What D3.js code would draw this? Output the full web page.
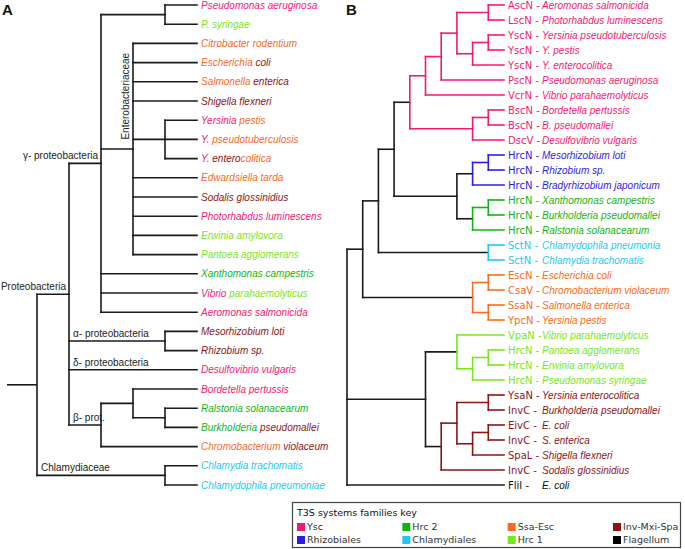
<!DOCTYPE html>
<html><head><meta charset="utf-8">
<script src="https://cdn.jsdelivr.net/npm/d3@7"></script>
<style>
body{margin:0;background:#fff;}
text{white-space:pre;}
</style>
</head><body>
<script>
// ---------- DATA ----------
const families = ["Ysc","Rhizobiales","Hrc 2","Chlamydiales","Ssa-Esc","Hrc 1","Inv-Mxi-Spa","Flagellum"];
const familyColors = ["#f41a6f","#2a1ee6","#12b412","#1fc8f0","#fb6a20","#77e81a","#8e1414","#000000"];

// Panel A: species tree (leaf indices), internal node names used for clade labels
const treeA = "((((0,1),(2,3,4,5,(6,7,8),9,10,11,12,13)entero,14,15,16)gamma,(17,18)alpha,19,((20,(21,22)),23)beta)proteo,(24,25)chlam)";
const leavesA = [
  [["Pseudomonas aeruginosa","Ysc"]],
  [["P. syringae","Hrc 1"]],
  [["Citrobacter rodentium","Ssa-Esc"]],
  [["Escherichia ","Ssa-Esc"],["coli","Inv-Mxi-Spa"]],
  [["Salmonella ","Ssa-Esc"],["enterica","Inv-Mxi-Spa"]],
  [["Shigella flexneri","Inv-Mxi-Spa"]],
  [["Yersinia ","Ysc"],["pestis","Ssa-Esc"]],
  [["Y. ","Ysc"],["pseudotuberculosis","Ssa-Esc"]],
  [["Y. ","Ysc"],["entero","Inv-Mxi-Spa"],["colitica","Ssa-Esc"]],
  [["Edwardsiella tarda","Ssa-Esc"]],
  [["Sodalis glossinidius","Inv-Mxi-Spa"]],
  [["Photorhabdus luminescens","Ysc"]],
  [["Erwinia amylovora","Hrc 1"]],
  [["Pantoea agglomerans","Hrc 1"]],
  [["Xanthomonas campestris","Hrc 2"]],
  [["Vibrio ","Ysc"],["parahaemolyticus","Hrc 1"]],
  [["Aeromonas salmonicida","Ysc"]],
  [["Mesorhizobium loti","Inv-Mxi-Spa"]],
  [["Rhizobium sp.","Inv-Mxi-Spa"]],
  [["Desulfovibrio vulgaris","Ysc"]],
  [["Bordetella pertussis","Ysc"]],
  [["Ralstonia solanacearum","Hrc 2"]],
  [["Burkholderia ","Hrc 2"],["pseudomallei","Inv-Mxi-Spa"]],
  [["Chromobacterium ","Ssa-Esc"],["violaceum","Inv-Mxi-Spa"]],
  [["Chlamydia trachomatis","Chlamydiales"]],
  [["Chlamydophila pneumoniae","Chlamydiales"]]
];
const cladeLabelsA = [
  ["γ- proteobacteria","gamma","end"],
  ["Enterobacteriaceae","entero","vertical"],
  ["Proteobacteria","proteo","end"],
  ["α- proteobacteria","alpha","start"],
  ["δ- proteobacteria","19","start"],
  ["β- prot.","beta","start"],
  ["Chlamydiaceae","chlam","start"]
];

// Panel B: ATPase tree
const treeB = "(((((((((0,1),((2,3),4)),5),6),((7,8),9)),(((10,11),12),((13,14),15))),(16,17)),((18,19),(20,21))),((22,((23,24),25)),(((26,27),((28,29),30)),31)),32)";
const genesB = ["AscN","LscN","YscN","YscN","YscN","PscN","VcrN","BscN","BscN","DscV",
  "HrcN","HrcN","HrcN","HrcN","HrcN","HrcN","SctN","SctN","EscN","CsaV","SsaN","YpcN",
  "VpaN","HrcN","HrcN","HrcN","YsaN","InvC","EivC","InvC","SpaL","InvC","FliI"];
const speciesB = ["Aeromonas salmonicida","Photorhabdus luminescens","Yersinia pseudotuberculosis","Y. pestis","Y. enterocolitica",
  "Pseudomonas aeruginosa","Vibrio parahaemolyticus","Bordetella pertussis","B. pseudomallei","Desulfovibrio vulgaris",
  "Mesorhizobium loti","Rhizobium sp.","Bradyrhizobium japonicum","Xanthomonas campestris","Burkholderia pseudomallei",
  "Ralstonia solanacearum","Chlamydophila pneumonia","Chlamydia trachomatis","Escherichia coli","Chromobacterium violaceum",
  "Salmonella enterica","Yersinia pestis","Vibrio parahaemolyticus","Pantoea agglomerans","Erwinia amylovora",
  "Pseudomonas syringae","Yersinia enterocolitica","Burkholderia pseudomallei","E. coli","S. enterica",
  "Shigella flexneri","Sodalis glossinidius","E. coli"];
const familiesB = ["Ysc","Ysc","Ysc","Ysc","Ysc","Ysc","Ysc","Ysc","Ysc","Ysc",
  "Rhizobiales","Rhizobiales","Rhizobiales","Hrc 2","Hrc 2","Hrc 2","Chlamydiales","Chlamydiales",
  "Ssa-Esc","Ssa-Esc","Ssa-Esc","Ssa-Esc","Hrc 1","Hrc 1","Hrc 1","Hrc 1",
  "Inv-Mxi-Spa","Inv-Mxi-Spa","Inv-Mxi-Spa","Inv-Mxi-Spa","Inv-Mxi-Spa","Inv-Mxi-Spa","Flagellum"];

const legendTitle = "T3S systems families key";

// ---------- HELPERS ----------
function parseNewick(s){
  let i=0;
  function node(){
    const n={};
    if(s[i]==='('){ i++; n.children=[]; do{ n.children.push(node()); } while(s[i++]===','); }
    let name=''; while(i<s.length && !',()'.includes(s[i])) name+=s[i++];
    n.name=name; return n;
  }
  return node();
}
function layout(str, yScale, xScale){
  const root = d3.hierarchy(parseNewick(str));
  root.leaves().forEach((l,i)=>{ l.y = yScale(i); });
  root.eachAfter(n=>{
    n.x = xScale(n.height);
    if(n.children){ n.y = (n.children[0].y + n.children[n.children.length-1].y)/2; }
  });
  return root;
}
const color = d3.scaleOrdinal().domain(families).range(familyColors);
const SANS = "'Liberation Sans', Arial, sans-serif";
const DEJ = "'DejaVu Sans', Verdana, sans-serif";
const LINE = "#1a1a1a";

const svg = d3.select("body").append("svg").attr("width",685).attr("height",549)
  .style("background","#fff");

function drawTree(g, root, colorOf){
  root.each(n=>{
    if(!n.children) return;
    const c = colorOf(n);
    g.append("line").attr("x1",n.x).attr("x2",n.x)
      .attr("y1",n.children[0].y).attr("y2",n.children[n.children.length-1].y)
      .attr("stroke",c);
    n.children.forEach(ch=>{
      g.append("line").attr("x1",n.x).attr("x2",ch.x).attr("y1",ch.y).attr("y2",ch.y).attr("stroke",c);
    });
  });
  g.selectAll("line").attr("stroke-width",1.6).attr("stroke-linecap","square");
}

// ---------- PANEL A ----------
const yA = d3.scaleLinear().domain([0, leavesA.length-1]).range([5, 485]);
const xA = d3.scaleLinear().domain([0, 5]).range([197, 37]);
const rootA = layout(treeA, yA, xA);
const gA = svg.append("g");
drawTree(gA, rootA, ()=>LINE);
// root stub
gA.append("line").attr("x1",xA(rootA.height+1)+2).attr("x2",rootA.x).attr("y1",rootA.y).attr("y2",rootA.y)
  .attr("stroke",LINE).attr("stroke-width",1.6);

rootA.leaves().forEach(l=>{
  const t = gA.append("text").attr("x",l.x+4).attr("y",l.y).attr("dy","0.35em")
    .attr("font-family",SANS).attr("font-size",10).attr("font-style","italic");
  leavesA[+l.data.name].forEach(([txt,fam])=>{
    t.append("tspan").text(txt).attr("fill",color(fam));
  });
});

const nodeByName = {};
rootA.each(n=>{ if(n.data.name!=="") nodeByName[n.data.name]=n; });
cladeLabelsA.forEach(([txt,key,mode])=>{
  const n = nodeByName[key];
  const t = gA.append("text").text(txt).attr("font-family",SANS).attr("font-size",10).attr("fill","#222");
  if(mode==="end"){
    t.attr("x",n.x-3).attr("y",n.y-4).attr("text-anchor","end");
  } else if(mode==="start"){
    t.attr("x",n.parent.x+4).attr("y",n.y-4);
  } else {
    const cy = (n.children[0].y + n.y)/2;
    t.attr("text-anchor","middle").attr("transform",`translate(${n.x-4},${cy}) rotate(-90)`);
  }
});

svg.append("text").text("A").attr("x",2).attr("y",15).attr("font-family",SANS)
  .attr("font-weight","bold").attr("font-size",15).attr("fill","#111");

// ---------- PANEL B ----------
const yB = d3.scaleLinear().domain([0, genesB.length-1]).range([5, 485]);
const xB = d3.scaleLinear().domain([0, 10]).range([504, 347]);
const rootB = layout(treeB, yB, xB);
const gB = svg.append("g");
drawTree(gB, rootB, n=>{
  const fs = new Set(n.leaves().map(l=>familiesB[+l.data.name]));
  return fs.size===1 ? color([...fs][0]) : LINE;
});
rootB.leaves().forEach(l=>{
  const i = +l.data.name;
  const c = familiesB[i]==="Flagellum" ? "#111" : color(familiesB[i]);
  gB.append("text").text(genesB[i]+" -").attr("x",l.x+4).attr("y",l.y).attr("dy","0.35em")
    .attr("font-family",DEJ).attr("font-size",10).attr("fill",c);
  gB.append("text").text(speciesB[i]).attr("x",542).attr("y",l.y).attr("dy","0.35em")
    .attr("font-family",SANS).attr("font-size",10).attr("font-style","italic").attr("fill",c);
});
svg.append("text").text("B").attr("x",346).attr("y",15).attr("font-family",SANS)
  .attr("font-weight","bold").attr("font-size",15).attr("fill","#111");

// ---------- LEGEND ----------
const lg = svg.append("g");
lg.append("rect").attr("x",292.5).attr("y",502.5).attr("width",388).attr("height",45)
  .attr("fill","#fff").attr("stroke","#444").attr("stroke-width",1.2);
lg.append("text").text(legendTitle).attr("x",297).attr("y",513).attr("dy","0.35em")
  .attr("font-family",DEJ).attr("font-size",9.5).attr("fill","#111");
const colX = d3.scaleLinear().domain([0,3]).range([297, 613]);
const rowY = d3.scaleLinear().domain([0,1]).range([527, 540]);
families.forEach((f,i)=>{
  const cx = colX(Math.floor(i/2)), cy = rowY(i%2);
  lg.append("rect").attr("x",cx).attr("y",cy-4).attr("width",8).attr("height",8).attr("fill",color(f));
  lg.append("text").text(f).attr("x",cx+10).attr("y",cy).attr("dy","0.35em")
    .attr("font-family",DEJ).attr("font-size",9.5).attr("fill","#333");
});
</script>
</body></html>
